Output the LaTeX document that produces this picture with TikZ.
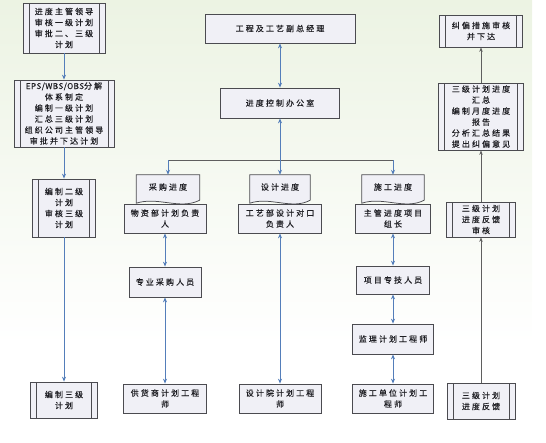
\documentclass[tikz,border=0pt]{standalone}
\usepackage{fontspec}
\setmainfont{Noto Sans CJK SC}[LetterSpace=26,FakeBold=0.4]
\newfontfamily\latn{Noto Sans CJK SC}[LetterSpace=6,FakeBold=0.4]
\usetikzlibrary{arrows.meta,calc}
\definecolor{boxfill}{RGB}{240,240,246}
\definecolor{boxline}{RGB}{75,75,80}
\definecolor{arrowblue}{RGB}{84,126,186}
\definecolor{graylne}{RGB}{95,95,95}
\definecolor{bgtop}{RGB}{236,243,227}
\definecolor{txt}{RGB}{30,30,35}
\tikzset{
  box/.style={draw=boxline, fill=boxfill, line width=0.75pt, align=center, inner sep=1pt,
    text=txt, font=\fontsize{8}{11}\selectfont},
  pbox/.style={box, path picture={
    \draw[boxline, line width=0.75pt]
      ([xshift=6pt]path picture bounding box.north west) -- ([xshift=6pt]path picture bounding box.south west)
      ([xshift=-6pt]path picture bounding box.north east) -- ([xshift=-6pt]path picture bounding box.south east);}},
  doctext/.style={align=center, inner sep=1pt, text=txt, font=\fontsize{8}{11}\selectfont},
  docline/.style={draw=boxline, fill=boxfill, line width=0.75pt},
  sarr/.style={draw=arrowblue, line width=0.9pt, -{Stealth[length=5pt,width=4pt]}},
  darr/.style={draw=arrowblue, line width=0.9pt, {Stealth[length=5pt,width=4pt]}-{Stealth[length=5pt,width=4pt]}},
  garr/.style={draw=graylne, line width=0.9pt, -{Stealth[length=4.5pt,width=3.5pt]}},
  barline/.style={draw=graylne, line width=0.9pt}
}
\newcommand\docshape[1]{%
  \path[docline] (#1.north west) -- (#1.north east) -- ([yshift=3pt]#1.south east)
    .. controls ($(#1.south)+(12pt,-7pt)$) and ($(#1.south)+(-10pt,7pt)$) .. (#1.south west) -- cycle;}
\begin{document}
\begin{tikzpicture}[x=1pt,y=-1pt]
\useasboundingbox (0,0) rectangle (546,442);
\fill[top color=bgtop, bottom color=white] (0,0) rectangle (532,345);

% left column
\node[pbox, minimum width=82pt, minimum height=50pt] (A) at (64,28) {进度主管领导\\审核一级计划\\审批二、三级\\计划};
\node[pbox, minimum width=100pt, minimum height=67pt] (EPS) at (64,113.5) {{\latn EPS/WBS/OBS}分解\\体系制定\\编制一级计划\\汇总三级计划\\组织公司主管领导\\审批并下达计划};
\node[pbox, minimum width=63pt, minimum height=58pt] (B) at (64,208) {编制二级\\计划\\审核三级\\计划};
\node[pbox, minimum width=67pt, minimum height=36pt] (C) at (64,400) {编制三级\\计划};

% centre top
\node[box, minimum width=150pt, minimum height=29pt] (GM) at (280,28.5) {工程及工艺副总经理};
\node[box, minimum width=119pt, minimum height=30pt] (off) at (280,103) {进度控制办公室};

% document shapes
\node[doctext, minimum width=63pt, minimum height=28pt] (d1) at (168,189) {};
\node[doctext, minimum width=60pt, minimum height=28pt] (d2) at (280,189) {};
\node[doctext, minimum width=62pt, minimum height=28pt] (d3) at (393,189) {};
\docshape{d1}\docshape{d2}\docshape{d3}
\node[doctext] (d1t) at ([yshift=2pt]d1.center) {采购进度};
\node[doctext] (d2t) at ([yshift=2pt]d2.center) {设计进度};
\node[doctext] (d3t) at ([yshift=2pt]d3.center) {施工进度};

% purchase column
\node[box, minimum width=82pt, minimum height=29pt] (p1) at (165,218.5) {物资部计划负责\\人};
\node[box, minimum width=72pt, minimum height=30pt] (p2) at (165,282) {专业采购人员};
\node[box, minimum width=83pt, minimum height=29pt] (p3) at (165,398.5) {供货商计划工程\\师};

% design column
\node[box, minimum width=83pt, minimum height=29pt] (s1) at (280,218.5) {工艺部设计对口\\负责人};
\node[box, minimum width=82pt, minimum height=29pt] (s2) at (280,398.5) {设计院计划工程\\师};

% construction column
\node[box, minimum width=75pt, minimum height=29pt] (c1) at (393,218.5) {主管进度项目\\组长};
\node[box, minimum width=73pt, minimum height=28pt] (c2) at (393,280) {项目专技人员};
\node[box, minimum width=81pt, minimum height=30pt] (c3) at (393,339) {监理计划工程师};
\node[box, minimum width=81pt, minimum height=29pt] (c4) at (393,398.5) {施工单位计划工\\程师};

% right column
\node[pbox, minimum width=83pt, minimum height=32pt] (r1) at (481,31) {纠偏措施审核\\并下达};
\node[pbox, minimum width=85pt, minimum height=67pt] (r2) at (481,116.5) {三级计划进度\\汇总\\编制月度进度\\报告\\分析汇总结果\\提出纠偏意见};
\node[pbox, minimum width=69pt, minimum height=35pt] (r3) at (481,219.5) {三级计划\\进度反馈\\审核};
\node[pbox, minimum width=68pt, minimum height=36pt] (r4) at (481,401) {三级计划\\进度反馈};

% connectors left
\draw[sarr] (A.south) -- (EPS.north);
\draw[sarr] (EPS.south) -- (B.north);
\draw[sarr] (B.south) -- (C.north);

% centre connectors
\draw[darr] (GM.south) -- (off.north);
\coordinate (bar) at (0,160);
\draw[barline] (d1.north |- bar) -- (d3.north |- bar);
\draw[darr] (off.south) -- (d2.north);
\draw[sarr] (d1.north |- bar) -- (d1.north);
\draw[sarr] (d3.north |- bar) -- (d3.north);

\draw[darr] (p1.south) -- (p2.north);
\draw[darr] (p2.south) -- (p3.north);
\draw[darr] (s1.south) -- (s2.north);
\draw[darr] (c1.south) -- (c2.north);
\draw[darr] (c2.south) -- (c3.north);
\draw[darr] (c3.south) -- (c4.north);

% right connectors
\draw[garr] (r4.north) -- (r3.south);
\draw[garr] (r3.north) -- (r2.south);
\draw[garr] (r2.north) -- (r1.south);
\end{tikzpicture}
\end{document}
